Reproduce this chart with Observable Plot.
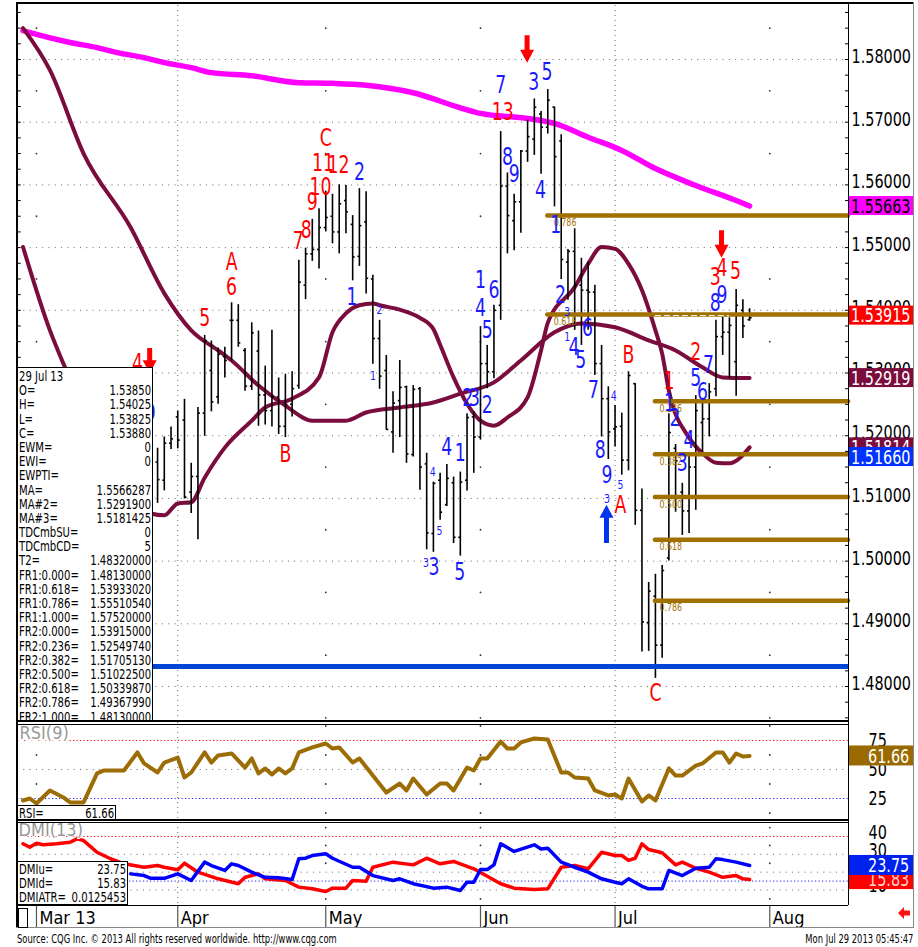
<!DOCTYPE html>
<html><head><meta charset="utf-8">
<script src="https://cdn.jsdelivr.net/npm/d3@7"></script>
<script src="https://cdn.jsdelivr.net/npm/@observablehq/plot@0.6"></script>
<style>
body{margin:0;background:#fff;}
#wrap{position:relative;width:918px;height:947px;overflow:hidden;background:#fff;}
.abs{position:absolute;}
.ln{position:absolute;background:#000;}
.box{position:absolute;background:#fff;border:1px solid #000;box-sizing:border-box;font-family:'DejaVu Sans Condensed',sans-serif;font-size:14px;color:#000;}
.row{position:relative;height:14.2px;line-height:14.2px;white-space:nowrap;}
.row span{position:absolute;top:0;transform:scaleX(0.8);}
.row span:first-child{left:1px;transform-origin:left center;}
.row span:last-child{right:1px;transform-origin:right center;}
.foot{position:absolute;top:932px;font-family:'DejaVu Sans Condensed',sans-serif;font-size:11.5px;color:#000;white-space:nowrap;transform:scaleX(0.81);}
</style></head>
<body><div id="wrap"></div>
<script>
const NARROW = "DejaVu Sans Condensed";
const SQUEEZE = 0.8;
// ---------- DATA ----------
// bar index = trading day counted from Fri 1 Mar 2013 (=0)
const monthStarts = [0, 21, 43, 66, 86, 109];
const monthLabels = ["Mar 13", "Apr", "May", "Jun", "Jul", "Aug"];
const quarterStarts = [21, 86];
const priceTicks = [1.48, 1.49, 1.50, 1.51, 1.52, 1.53, 1.54, 1.55, 1.56, 1.57, 1.58];
const rsiTicks = [75, 50, 25];
const dmiTicks = [40, 30, 20, 10];
// [index, open, high, low, close]
const ohlc = [
 [18,1.5158,1.5180,1.5092,1.5130],[19,1.5129,1.5198,1.5112,1.5188],[20,1.5188,1.5214,1.5178,1.5195],
 [21,1.5230,1.5239,1.5179,1.5193],[22,1.5225,1.5258,1.5099,1.5102],[23,1.5110,1.5156,1.5076,1.5135],
 [24,1.5135,1.5245,1.5034,1.5236],[25,1.5236,1.5360,1.5199,1.5352],[26,1.5304,1.5351,1.5238,1.5254],
 [27,1.5262,1.5340,1.5250,1.5330],[28,1.5326,1.5341,1.5292,1.5320],[29,1.5384,1.5412,1.5319,1.5384],
 [30,1.5384,1.5409,1.5341,1.5348],[31,1.5336,1.5339,1.5271,1.5279],[32,1.5279,1.5380,1.5272,1.5364],
 [33,1.5335,1.5367,1.5215,1.5265],[34,1.5265,1.5311,1.5217,1.5240],[35,1.5240,1.5368,1.5214,1.5262],
 [36,1.5262,1.5292,1.5202,1.5215],[37,1.5215,1.5298,1.5197,1.5250],[38,1.5250,1.5302,1.5230,1.5275],
 [39,1.5280,1.5480,1.5274,1.5445],[40,1.5440,1.5499,1.5417,1.5490],[41,1.5490,1.5545,1.5478,1.5497],
 [42,1.5497,1.5562,1.5466,1.5532],[43,1.5532,1.5590,1.5525,1.5548],[44,1.5550,1.5585,1.5506,1.5525],
 [45,1.5525,1.5600,1.5490,1.5570],[46,1.5575,1.5599,1.5522,1.5557],[47,1.5537,1.5551,1.5447,1.5485],
 [48,1.5486,1.5594,1.5470,1.5535],[49,1.5541,1.5589,1.5426,1.5451],[50,1.5450,1.5456,1.5314,1.5355],
 [51,1.5355,1.5384,1.5274,1.5295],[52,1.5304,1.5328,1.5209,1.5210],[53,1.5206,1.5270,1.5172,1.5252],
 [54,1.5256,1.5320,1.5197,1.5277],[55,1.5278,1.5279,1.5156,1.5171],[56,1.5170,1.5280,1.5166,1.5274],
 [57,1.5275,1.5277,1.5113,1.5150],[58,1.5155,1.5172,1.5018,1.5045],[59,1.5044,1.5126,1.5014,1.5124],
 [60,1.5129,1.5140,1.5065,1.5078],[61,1.5090,1.5154,1.5087,1.5132],[62,1.5125,1.5134,1.5028,1.5038],
 [63,1.5038,1.5142,1.5008,1.5126],[64,1.5129,1.5235,1.5112,1.5229],[65,1.5230,1.5238,1.5140,1.5198],
 [66,1.5198,1.5374,1.5193,1.5315],[67,1.5315,1.5344,1.5275,1.5302],[68,1.5302,1.5408,1.5291,1.5400],
 [69,1.5408,1.5685,1.5384,1.5598],[70,1.5598,1.5619,1.5490,1.5551],[71,1.5543,1.5585,1.5495,1.5573],
 [72,1.5573,1.5655,1.5523,1.5654],[73,1.5654,1.5703,1.5636,1.5677],[74,1.5673,1.5737,1.5647,1.5724],
 [75,1.5713,1.5717,1.5617,1.5692],[76,1.5692,1.5752,1.5681,1.5735],[77,1.5724,1.5724,1.5565,1.5645],
 [78,1.5670,1.5680,1.5449,1.5481],[79,1.5477,1.5497,1.5416,1.5494],[80,1.5494,1.5530,1.5368,1.5440],
 [81,1.5440,1.5483,1.5344,1.5432],[82,1.5432,1.5477,1.5368,1.5429],[83,1.5429,1.5440,1.5296,1.5315],
 [84,1.5315,1.5344,1.5198,1.5259],[85,1.5259,1.5278,1.5162,1.5206],[86,1.5211,1.5248,1.5182,1.5214],
 [87,1.5215,1.5236,1.5137,1.5161],[88,1.5161,1.5302,1.5144,1.5296],[89,1.5283,1.5283,1.5057,1.5081],
 [90,1.5081,1.5115,1.4855,1.4903],[91,1.4902,1.4966,1.4856,1.4952],[92,1.4944,1.4979,1.4813,1.4866],
 [93,1.4866,1.4993,1.4845,1.4985],[94,1.5005,1.5235,1.5000,1.5205],[95,1.5180,1.5186,1.5078,1.5160],
 [96,1.5110,1.5124,1.5041,1.5080],[97,1.5080,1.5167,1.5044,1.5150],[98,1.5150,1.5264,1.5081,1.5240],
 [99,1.5221,1.5254,1.5174,1.5227],[100,1.5227,1.5283,1.5198,1.5270],[101,1.5275,1.5384,1.5262,1.5358],
 [102,1.5358,1.5389,1.5328,1.5365],[103,1.5365,1.5388,1.5291,1.5376],[104,1.5318,1.5433,1.5263,1.5408],
 [105,1.5400,1.5417,1.5355,1.5375],[106,1.5385,1.54025,1.53825,1.5388]
];
const ma1 = [[-2,1.5846],[0,1.5840],[5,1.5827],[9,1.5819],[12,1.5811],[16,1.5803],[19,1.5795],[23,1.5787],[26,1.5779],[32,1.5774],[39,1.5763],[44,1.5762],[49,1.5759],[56,1.5747],[63,1.5723],[66,1.5714],[73,1.5706],[77,1.5698],[82,1.5676],[87,1.5655],[92,1.5626],[98,1.5599],[104,1.5575],[106,1.5566287]];
const ma2 = [[-2,1.5850],[2,1.5783],[7,1.5650],[14,1.5532],[19,1.5427],[23,1.5368],[27,1.5336],[29,1.5320],[33,1.5280],[37,1.5248],[41,1.5224],[46,1.5224],[49,1.5237],[54,1.5245],[59,1.5253],[63,1.5267],[68,1.5285],[72,1.5320],[77,1.5365],[81,1.5379],[86,1.5373],[91,1.5352],[95,1.5336],[99,1.5309],[102,1.5293],[106,1.52919]];
const ma3 = [[-2,1.5501],[2,1.5368],[4,1.5315],[8,1.5220],[13,1.5120],[17,1.5076],[19,1.5073],[21,1.5092],[23,1.5094],[25,1.5133],[28,1.5181],[32,1.5224],[34,1.5245],[38,1.5259],[42,1.5293],[44,1.5365],[46,1.5395],[48,1.5408],[50,1.5411],[51,1.5408],[54,1.5401],[57,1.5388],[59,1.5370],[60,1.5345],[62,1.5293],[64,1.5251],[66,1.5224],[68,1.5216],[70,1.5229],[73,1.5261],[75,1.5336],[76,1.5380],[80,1.5437],[82,1.5474],[84,1.5501],[86,1.5498],[88,1.5474],[90,1.5432],[92,1.5368],[93,1.5331],[94,1.5272],[97,1.5197],[99,1.5172],[101,1.5157],[103,1.5156],[106,1.5181425]];
const rsi = [[-2,23.3],[-1,25.0],[0,20.7],[2,31.9],[4,25.9],[5,21.6],[7,21.6],[9,46.6],[10,49.1],[13,49.1],[15,64.7],[16,55.2],[18,47.4],[19,56.0],[21,60.3],[22,43.1],[23,47.4],[25,64.7],[26,56.0],[27,62.1],[29,63.8],[31,51.7],[32,59.5],[33,46.6],[34,50.9],[35,45.7],[36,50.9],[37,46.6],[38,50.9],[39,64.7],[41,69.0],[43,72.4],[44,68.1],[45,69.0],[47,56.0],[48,59.5],[50,44.8],[52,30.2],[54,37.9],[55,31.9],[56,42.2],[58,28.4],[60,37.9],[61,37.9],[62,31.9],[64,51.7],[65,49.1],[66,59.5],[67,59.5],[69,74.1],[70,68.1],[71,68.1],[72,73.3],[74,76.7],[76,75.9],[78,47.4],[79,47.4],[80,43.1],[82,42.2],[83,31.9],[85,27.6],[86,28.4],[87,25.0],[88,42.2],[90,22.4],[91,27.6],[92,23.3],[94,50.9],[95,44.8],[96,44.8],[98,53.4],[99,55.2],[101,64.7],[102,64.7],[103,56.0],[104,63.8],[105,61.2],[106,61.66]];
const dmiMinus = [[-2,35.91],[-1,34.0],[0,36.19],[1,35.33],[3,35.91],[5,36.76],[6,38.67],[7,37.72],[9,31.14],[11,27.52],[13,24.66],[16,22.75],[18,23.71],[19,22.75],[21,21.32],[22,25.04],[24,19.99],[27,16.27],[30,13.51],[31,17.13],[33,19.04],[34,16.27],[37,15.32],[39,11.6],[41,10.65],[43,9.13],[44,11.03],[46,11.03],[47,15.32],[49,14.94],[50,22.75],[53,25.61],[56,24.09],[58,27.81],[60,24.66],[62,26.0],[63,24.66],[65,21.9],[67,17.7],[69,13.51],[71,11.03],[74,10.27],[76,10.65],[78,22.75],[80,23.71],[82,21.9],[84,31.14],[86,29.33],[87,29.33],[88,26.57],[89,27.81],[90,35.91],[91,32.67],[93,30.85],[95,24.09],[96,25.61],[98,22.18],[100,19.99],[102,17.13],[104,18.08],[105,16.27],[106,15.83]];
const dmiPlus = [[14,19.04],[16,18.08],[17,16.56],[19,16.56],[21,19.04],[23,15.32],[25,25.61],[26,23.71],[28,20.94],[29,24.66],[30,23.71],[32,19.99],[34,17.13],[36,16.85],[38,15.89],[39,27.52],[40,27.81],[41,29.33],[43,30.28],[44,27.81],[47,22.75],[48,22.75],[50,18.08],[53,15.32],[54,16.27],[56,13.51],[59,11.03],[61,11.6],[63,9.7],[64,14.37],[65,14.37],[66,21.52],[67,21.52],[68,24.09],[69,35.91],[71,31.62],[74,35.33],[75,33.05],[76,33.43],[78,25.61],[80,22.75],[82,19.99],[84,16.27],[86,14.37],[87,13.51],[88,16.27],[90,12.08],[91,10.65],[93,10.65],[94,20.94],[96,18.08],[98,22.18],[100,22.75],[101,27.52],[102,27.04],[104,25.61],[106,23.75]];
const t2 = 1.4832;
const fr1Start = 76, fr2Start = 92;
const fr1 = [["0.618",1.5393302],["0.786",1.5551054]];
const fr2 = [["0.236",1.5254974],["0.382",1.5170513],["0.500",1.510225],["0.618",1.5033987],["0.786",1.4936799]];
const fr2Zero = 1.53915;
// TD sequential labels: [bar index, price, text]
const tdRed = [[15,1.5315,"4"],[25,1.5387,"5"],[29,1.5436,"6"],[29,1.5476,"A"],[37,1.5170,"B"],[38.9,1.5510,"7"],[40.1,1.5528,"8"],[41,1.5572,"9"],[42.2,1.5596,"10"],[42.6,1.5634,"11"],[44.9,1.5631,"12"],[43,1.5674,"C"],[69.3,1.5716,"13"],[88,1.5328,"B"],[86.8,1.5089,"A"],[92,1.4789,"C"],[94,1.5286,"1"],[98,1.5333,"2"],[100.9,1.5452,"3"],[101.9,1.5467,"4"],[103.9,1.5462,"5"]];
const tdBlue = [[16.9,1.5235,"9"],[48,1.5620,"2"],[46.9,1.5420,"1"],[59.1,1.4990,"3"],[61,1.5182,"4"],[63,1.5172,"1"],[62.9,1.4982,"5"],[64.1,1.5259,"2"],[65.1,1.5259,"3"],[67,1.5248,"2"],[67,1.5368,"5"],[66,1.5403,"4"],[66,1.5448,"1"],[68,1.5432,"6"],[69,1.5759,"7"],[70,1.5644,"8"],[71,1.5617,"9"],[73.9,1.5763,"3"],[75.9,1.5779,"5"],[74.9,1.5591,"4"],[77.2,1.5535,"1"],[77.9,1.5424,"2"],[79.9,1.5341,"4"],[80.9,1.5320,"5"],[81.9,1.5371,"6"],[82.8,1.5272,"7"],[83.8,1.5176,"8"],[84.8,1.5137,"9"],[94.1,1.5251,"1"],[94.9,1.5227,"2"],[96,1.5156,"3"],[97,1.5192,"4"],[98,1.5291,"5"],[99,1.5269,"6"],[99.9,1.5312,"7"],[100.9,1.5411,"8"],[101.9,1.5424,"9"]];
const tdBlueSmall = [[50,1.5296,"1"],[51,1.5400,"2"],[57.9,1.4998,"3"],[58.9,1.5142,"4"],[59.9,1.5049,"5"],[78.9,1.5397,"3"],[78.9,1.5357,"1"],[84.8,1.5100,"3"],[85.8,1.5264,"4"],[86.8,1.5121,"5"]];
// arrows: [bar index, tail price, tip price]
const arrowsDown = [[16.9,1.5339,1.5299],[73,1.5838,1.5794],[101.9,1.5527,1.5483]];
const arrowsUp = [[84.8,1.5028,1.5089]];
const lastMA = 1.5566287, lastMA2 = 1.52919, lastMA3 = 1.51814, lastBlue = 1.5166;
const lastRSI = 61.66, lastDMIu = 23.75, lastDMId = 15.83;
const infoRows = [["29 Jul 13",""],["O=","1.53850"],["H=","1.54025"],["L=","1.53825"],["C=","1.53880"],["EWM=","0"],["EWI=","0"],["EWPTI=",""],["MA=","1.5566287"],["MA#2=","1.5291900"],["MA#3=","1.5181425"],["TDCmbSU=","0"],["TDCmbCD=","5"],["T2=","1.48320000"],["FR1:0.000=","1.48130000"],["FR1:0.618=","1.53933020"],["FR1:0.786=","1.55510540"],["FR1:1.000=","1.57520000"],["FR2:0.000=","1.53915000"],["FR2:0.236=","1.52549740"],["FR2:0.382=","1.51705130"],["FR2:0.500=","1.51022500"],["FR2:0.618=","1.50339870"],["FR2:0.786=","1.49367990"],["FR2:1.000=","1.48130000"]];
const dmiRows = [["DMIu=","23.75"],["DMId=","15.83"],["DMIATR=","0.0125453"]];

// ---------- LAYOUT ----------
const X_DOMAIN = [-2.82, 120.7];
const common = {width: 918, marginLeft: 17, marginRight: 70, x: {domain: X_DOMAIN, axis: null}, style: {background: "transparent", overflow: "visible"}};
const MAROON = "#7b0d3e", GOLD = "#a07000", MAG = "#ff00ff";
const wrap = document.getElementById("wrap");
// narrow the condensed glyphs (no narrow font installed) without moving them
function squeeze(t) {
  const L = t.getComputedTextLength();
  if (L > 0) { t.setAttribute("textLength", (L * SQUEEZE).toFixed(2)); t.setAttribute("lengthAdjust", "spacingAndGlyphs"); }
}
function condense(svg) {
  for (const g of svg.querySelectorAll("g")) {
    if (g.getAttribute("font-family") === NARROW) g.querySelectorAll("text").forEach(squeeze);
  }
  for (const t of svg.querySelectorAll("text[font-family]")) {
    if (t.getAttribute("font-family") === NARROW) squeeze(t);
  }
}
function place(node, top) { const d = document.createElement("div"); d.className = "abs"; d.style.left = "0px"; d.style.top = top + "px"; d.appendChild(node); wrap.appendChild(d); condense(node); }

function sideBoxes(items, h) {
  return (index, scales, values, dims) => {
    const g = d3.create("svg:g");
    const x0 = dims.width - dims.marginRight;
    for (const it of items) {
      const y = scales.y(it.value);
      g.append("rect").attr("x", x0 + 1).attr("y", y - h / 2).attr("width", 64).attr("height", h).attr("fill", it.fill);
      g.append("text").attr("x", x0 + (it.tx || 3)).attr("y", y).attr("dy", "0.36em")
        .attr("text-anchor", "start").attr("fill", it.color)
        .attr("font-size", 20).attr("font-family", NARROW).text(it.label);
    }
    return g.node();
  };
}
function arrowMark(list, color) {
  return (index, scales) => {
    const g = d3.create("svg:g");
    for (const [i, a, b] of list) {
      const x = scales.x(i), y0 = scales.y(a), y1 = scales.y(b);
      const dir = Math.sign(y1 - y0);
      const hb = y1 - dir * 13;
      g.append("path").attr("fill", color)
        .attr("d", `M${x-2.5},${y0}L${x+2.5},${y0}L${x+2.5},${hb}L${x+7},${hb}L${x},${y1}L${x-7},${hb}L${x-2.5},${hb}Z`);
    }
    return g.node();
  };
}
const halfLevels = d3.range(1.475, 1.59, 0.01);
const minorMonths = monthStarts.filter(m => !quarterStarts.includes(m));
const minorTicks = d3.range(1.4750, 1.5885, 0.0025);

const main = Plot.plot({
  ...common, height: 720, marginTop: 5, marginBottom: 0,
  y: {domain: [1.47458, 1.58861], axis: null},
  marks: [
    Plot.ruleY(priceTicks, {stroke: "#666", strokeDasharray: "1,5.3"}),
    Plot.ruleX(quarterStarts, {stroke: "#666", strokeDasharray: "1,4"}),
    Plot.dot(minorMonths.flatMap(m => halfLevels.map(v => [m, v])), {x: d => d[0], y: d => d[1], r: 0.9, fill: "#333", stroke: null}),
    Plot.ruleY(minorTicks, {x1: X_DOMAIN[0], x2: X_DOMAIN[0] + 0.55, stroke: "#000"}),
    Plot.ruleY(minorTicks, {x1: X_DOMAIN[1] - 0.45, x2: X_DOMAIN[1], stroke: "#000"}),
    Plot.line(ma1, {x: d => d[0], y: d => d[1], stroke: MAG, strokeWidth: 5.5, curve: "monotone-x"}),
    Plot.line(ma2, {x: d => d[0], y: d => d[1], stroke: MAROON, strokeWidth: 4, curve: "monotone-x"}),
    Plot.line(ma3, {x: d => d[0], y: d => d[1], stroke: MAROON, strokeWidth: 4, curve: "monotone-x"}),
    Plot.ruleX(ohlc, {x: d => d[0], y1: d => d[3], y2: d => d[2], stroke: "#000", strokeWidth: 1.6}),
    Plot.link(ohlc, {x1: d => d[0] - 0.3, x2: d => d[0], y1: d => d[1], y2: d => d[1], stroke: "#000", strokeWidth: 1.6}),
    Plot.link(ohlc, {x1: d => d[0], x2: d => d[0] + 0.3, y1: d => d[4], y2: d => d[4], stroke: "#000", strokeWidth: 1.6}),
    Plot.ruleY(fr1, {y: d => d[1], x1: fr1Start, x2: X_DOMAIN[1], stroke: GOLD, strokeWidth: 4.5, strokeLinecap: "round"}),
    Plot.ruleY(fr2, {y: d => d[1], x1: fr2Start, x2: X_DOMAIN[1], stroke: GOLD, strokeWidth: 4.5, strokeLinecap: "round"}),
    Plot.ruleY([fr2Zero], {x1: fr2Start, x2: 103, stroke: "#fff", strokeWidth: 1, strokeDasharray: "6,3"}),
    Plot.text(fr1, {x: fr1Start, y: d => d[1], text: d => d[0], dx: 6, dy: 7, textAnchor: "start", fill: GOLD, fontSize: 11, fontFamily: NARROW}),
    Plot.text(fr2, {x: fr2Start, y: d => d[1], text: d => d[0], dx: 4, dy: 7, textAnchor: "start", fill: GOLD, fontSize: 11, fontFamily: NARROW}),
    Plot.ruleY([t2], {x1: X_DOMAIN[0], x2: X_DOMAIN[1], stroke: "#0046d5", strokeWidth: 5}),
    Plot.text(tdRed, {x: d => d[0], y: d => d[1], text: d => d[2], fill: "#ff0000", fontSize: 24, fontFamily: NARROW}),
    Plot.text(tdBlue, {x: d => d[0], y: d => d[1], text: d => d[2], fill: "#1a1aff", fontSize: 24, fontFamily: NARROW}),
    Plot.text(tdBlueSmall, {x: d => d[0], y: d => d[1], text: d => d[2], fill: "#1a1aff", fontSize: 13, fontFamily: NARROW}),
    arrowMark(arrowsDown, "#ff0000"),
    arrowMark(arrowsUp, "#0033ee"),
    Plot.text(priceTicks, {y: d => d, text: d => d.toFixed(5), frameAnchor: "right", dx: 3, dy: -3, textAnchor: "start", fill: "#000", fontSize: 20, fontFamily: NARROW}),
    sideBoxes([
      {value: lastMA, label: lastMA.toFixed(5), fill: MAG, color: "#000"},
      {value: fr2Zero, label: fr2Zero.toFixed(5), fill: "#ff0000", color: "#fff"},
      {value: lastMA2, label: lastMA2.toFixed(5), fill: MAROON, color: "#fff"},
      {value: lastMA3, label: lastMA3.toFixed(5), fill: MAROON, color: "#fff"},
      {value: lastBlue, label: lastBlue.toFixed(5), fill: "#0033ff", color: "#fff"}
    ], 19)
  ]
});
place(main, 0);

const rsiPlot = Plot.plot({
  ...common, height: 98, marginTop: 0, marginBottom: 0,
  y: {domain: [6.03, 90.5], axis: null},
  marks: [
    Plot.ruleY([50], {stroke: "#666", strokeDasharray: "1,5.3"}),
    Plot.ruleY([75], {stroke: "#ff0000", strokeDasharray: "1.2,2.3"}),
    Plot.ruleY([25], {stroke: "#2020ff", strokeDasharray: "1.2,2.3"}),
    Plot.ruleX(quarterStarts, {stroke: "#666", strokeDasharray: "1,4"}),
    Plot.dot(minorMonths.flatMap(m => [12.5, 37.5, 62.5, 87.5].map(v => [m, v])), {x: d => d[0], y: d => d[1], r: 0.9, fill: "#333", stroke: null}),
    Plot.line(rsi, {x: d => d[0], y: d => d[1], stroke: "#9c6d05", strokeWidth: 4}),
    Plot.text(["RSI(9)"], {frameAnchor: "top-left", dx: 2, dy: 4, textAnchor: "start", lineAnchor: "top", fill: "#999", stroke: "#fff", strokeWidth: 4, paintOrder: "stroke", fontSize: 18, fontFamily: "DejaVu Sans Condensed, sans-serif"}),
    Plot.text(rsiTicks, {y: d => d, text: d => String(d), frameAnchor: "right", dx: 20, textAnchor: "start", fill: "#000", fontSize: 20, fontFamily: NARROW}),
    sideBoxes([{value: lastRSI, label: lastRSI.toFixed(2), fill: "#9a6a00", color: "#fff", tx: 20}], 20)
  ]
});
place(rsiPlot, 722);

const dmiPlot = Plot.plot({
  ...common, height: 83, marginTop: 0, marginBottom: 0,
  y: {domain: [1.3, 47.85], axis: null},
  marks: [
    Plot.ruleY([30, 20, 10], {stroke: "#666", strokeDasharray: "1,5.3"}),
    Plot.ruleY([40], {stroke: "#ff0000", strokeDasharray: "1.2,2.3"}),
    Plot.ruleY([15], {stroke: "#2020ff", strokeDasharray: "1.2,2.3"}),
    Plot.ruleX(quarterStarts, {stroke: "#666", strokeDasharray: "1,4"}),
    Plot.dot(minorMonths.flatMap(m => [5, 25, 35, 45].map(v => [m, v])), {x: d => d[0], y: d => d[1], r: 0.9, fill: "#333", stroke: null}),
    Plot.line(dmiMinus, {x: d => d[0], y: d => d[1], stroke: "#ff0000", strokeWidth: 3.5}),
    Plot.line(dmiPlus, {x: d => d[0], y: d => d[1], stroke: "#0000ff", strokeWidth: 3.5}),
    Plot.text(["DMI(13)"], {frameAnchor: "top-left", dx: 1, dy: 1, textAnchor: "start", lineAnchor: "top", fill: "#999", stroke: "#fff", strokeWidth: 2, paintOrder: "stroke", fontSize: 18, fontFamily: "DejaVu Sans Condensed, sans-serif"}),
    Plot.text(dmiTicks, {y: d => d, text: d => String(d), frameAnchor: "right", dx: 20, dy: -4, textAnchor: "start", fill: "#000", fontSize: 20, fontFamily: NARROW}),
    sideBoxes([
      {value: lastDMId, label: lastDMId.toFixed(2), fill: "#ff0000", color: "#ffd0d0", tx: 20},
      {value: lastDMIu, label: lastDMIu.toFixed(2), fill: "#0022ee", color: "#fff", tx: 20}
    ], 20)
  ]
});
place(dmiPlot, 822);

const axisPlot = Plot.plot({
  ...common, height: 23, marginTop: 0, marginBottom: 0,
  y: {axis: null},
  marks: [
    Plot.ruleX(monthStarts, {stroke: "#555", strokeWidth: 1.2}),
    Plot.text(monthStarts, {x: d => d, text: (d, i) => monthLabels[i], frameAnchor: "middle", textAnchor: "start", dx: 3, dy: 1, fill: "#000", fontSize: 18, fontFamily: "DejaVu Sans Condensed, sans-serif"})
  ]
});
place(axisPlot, 905);

// ---------- HTML overlays ----------
function makeBox(left, top, width, height, rows) {
  const b = document.createElement("div"); b.className = "box";
  Object.assign(b.style, {left: left + "px", top: top + "px", width: width + "px", height: height + "px"});
  for (const [k, v] of rows) { const r = document.createElement("div"); r.className = "row"; r.innerHTML = `<span>${k}</span><span>${v}</span>`; b.appendChild(r); }
  wrap.appendChild(b); return b;
}
makeBox(17, 367, 136, 354, infoRows).style.paddingTop = "1px";
makeBox(17, 805, 99, 16, [["RSI=", lastRSI.toFixed(2)]]).style.paddingTop = "0px";
makeBox(17, 861, 111, 44, dmiRows).style.paddingTop = "0px";

function line(l, t, w, h, c) { const d = document.createElement("div"); d.className = "ln"; Object.assign(d.style, {left: l + "px", top: t + "px", width: w + "px", height: h + "px", background: c || "#000"}); wrap.appendChild(d); }
line(16, 2, 898, 2);          // top
line(16, 2, 2, 926);          // left
line(848, 4, 1, 901);         // plot right edge
line(913, 2, 1, 926, "#888"); // outer right
line(17, 720, 831, 2); line(17, 723.5, 831, 1);
line(17, 819, 831, 2); line(17, 822, 831, 1);
line(17, 904.5, 831, 1);
line(16, 927, 898, 1, "#888");
const sq = document.createElement("div"); sq.className = "abs";
Object.assign(sq.style, {left: "18px", top: "908px", width: "8px", height: "18px", border: "1px solid #000"}); wrap.appendChild(sq);
const arr = document.createElement("div"); arr.className = "abs";
arr.style.left = "897px"; arr.style.top = "906px";
arr.innerHTML = '<svg width="14" height="14"><path d="M1,7L7,1L7,4.5L13,4.5L13,9.5L7,9.5L7,13Z" fill="#ff1010"/></svg>';
wrap.appendChild(arr);
const f1 = document.createElement("div"); f1.className = "foot"; f1.style.left = "17px"; f1.style.transformOrigin = "left center";
f1.textContent = "Source: CQG Inc. \u00a9 2013 All rights reserved worldwide. http://www.cqg.com"; wrap.appendChild(f1);
const f2 = document.createElement("div"); f2.className = "foot"; f2.style.right = "5px"; f2.style.transformOrigin = "right center";
f2.textContent = "Mon Jul 29 2013 05:45:47"; wrap.appendChild(f2);
</script></body></html>
